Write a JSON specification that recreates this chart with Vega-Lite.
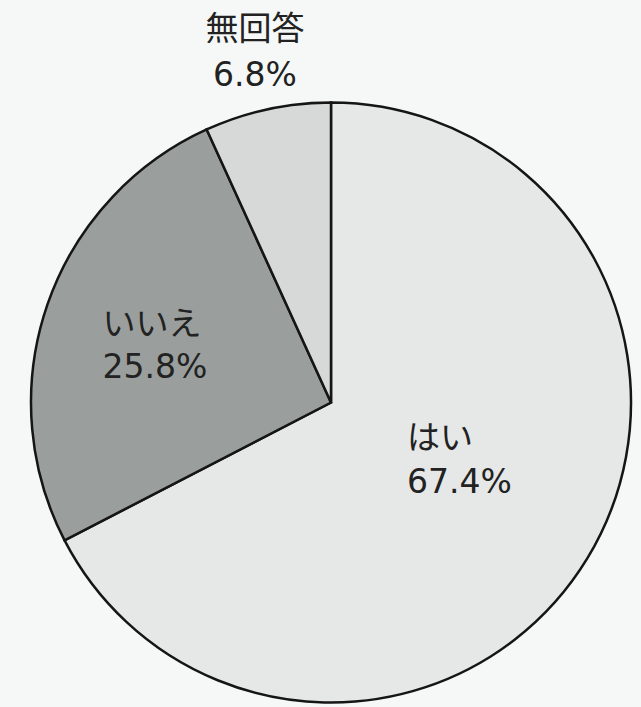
{
  "$schema": "https://vega.github.io/schema/vega-lite/v6.json",
  "autosize": "none",
  "width": 620,
  "height": 609,
  "padding": {"left": 21, "top": 98, "right": 0, "bottom": 0},
  "background": "#f6f8f7",
  "config": {"view": {"stroke": null}},
  "data": {
    "values": [
      {"category": "はい", "value": 67.4, "label": "はい\n67.4%"},
      {"category": "いいえ", "value": 25.8, "label": "いいえ\n25.8%"},
      {"category": "無回答", "value": 6.8, "label": "無回答\n6.8%"}
    ]
  },
  "encoding": {
    "theta": {"field": "value", "type": "quantitative", "stack": true},
    "order": {"field": "value", "type": "quantitative", "sort": "descending"}
  },
  "layer": [
    {
      "mark": {"type": "arc", "outerRadius": 300, "stroke": "#151515", "strokeWidth": 2.5},
      "encoding": {
        "color": {
          "field": "category",
          "type": "nominal",
          "scale": {"domain": ["はい", "いいえ", "無回答"], "range": ["#e5e8e6", "#9a9e9c", "#d6d9d7"]},
          "legend": null
        }
      }
    },
    {
      "mark": {"type": "text", "radius": 110, "dx": -18, "dy": -21, "align": "left", "baseline": "middle", "lineBreak": "\n", "lineHeight": 44, "fontSize": 33, "font": "DejaVu Sans, Noto Sans CJK JP", "fill": "#222222"},
      "encoding": {"text": {"condition": {"test": "datum.category === 'はい'", "field": "label"}, "value": ""}}
    },
    {
      "mark": {"type": "text", "radius": 173, "dx": -65, "dy": -21, "align": "left", "baseline": "middle", "lineBreak": "\n", "lineHeight": 43, "fontSize": 33, "font": "DejaVu Sans, Noto Sans CJK JP", "fill": "#222222"},
      "encoding": {"text": {"condition": {"test": "datum.category === 'いいえ'", "field": "label"}, "value": ""}}
    },
    {
      "mark": {"type": "text", "radius": 359, "dy": -22, "align": "center", "baseline": "middle", "lineBreak": "\n", "lineHeight": 46, "fontSize": 33, "font": "DejaVu Sans, Noto Sans CJK JP", "fill": "#222222"},
      "encoding": {"text": {"condition": {"test": "datum.category === '無回答'", "field": "label"}, "value": ""}}
    }
  ]
}
